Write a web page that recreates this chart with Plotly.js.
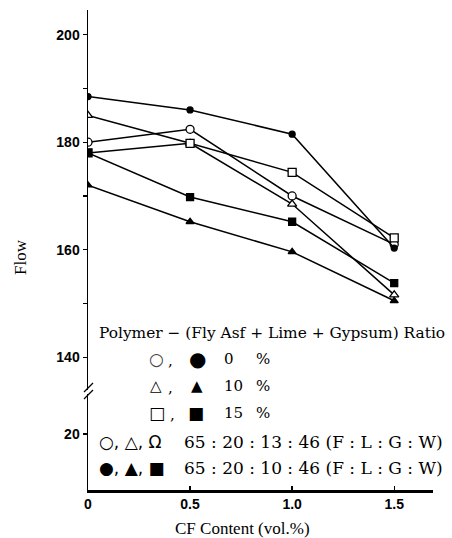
<!DOCTYPE html>
<html>
<head>
<meta charset="utf-8">
<script src="https://cdn.plot.ly/plotly-3.0.1.min.js"></script>
<style>html,body{margin:0;padding:0;background:#fff;}#chart{width:452px;height:538px;}</style>
</head>
<body>
<div id="chart"></div>
<script>
// ---- data ----
const cfContent = [0, 0.5, 1.0, 1.5];
const openCircle0 = [180, 182.4, 170, 161];
const filledCircle0 = [188.5, 186, 181.5, 160.3];
const openTriangle10 = [185, 179.8, 168.5, 151.6];
const filledTriangle10 = [172, 165.2, 159.6, 150.5];
const openSquare15 = [178, 179.8, 174.4, 162.2];
const filledSquare15 = [178, 169.8, 165.2, 153.8];
const upperTickVals = [140, 150, 160, 170, 180, 190, 200];
const upperTickText = ["140", "", "160", "", "180", "", "200"];
const lowerTickVals = [20];
const lowerTickText = ["20"];
const xTickVals = [0, 0.5, 1.0, 1.5];
const xTickText = ["0", "0.5", "1.0", "1.5"];

// ---- layout helpers (pixel -> paper) ----
const L = 88, R = 433, T = 10, B = 490;
const px = v => (v - L) / (R - L);
const py = v => (B - v) / (B - T);

function series(y, symbol, filled, size) {
  return {
    x: cfContent, y: y, xaxis: 'x', yaxis: 'y2',
    mode: 'lines+markers', type: 'scatter', showlegend: false,
    line: {color: '#000', width: 1.5},
    marker: {symbol: symbol, size: size, color: filled ? '#000' : '#fff',
             line: {color: '#000', width: 1.3}}
  };
}

const data = [
  // empty trace so the lower (broken) axis segment is created
  {x: [null], y: [null], xaxis: 'x', yaxis: 'y', type: 'scatter', mode: 'markers', showlegend: false},
  series(openCircle0, 'circle', false, 8),
  series(openTriangle10, 'triangle-up', false, 8),
  series(openSquare15, 'square', false, 8),
  series(filledCircle0, 'circle', true, 6),
  series(filledTriangle10, 'triangle-up', true, 7),
  series(filledSquare15, 'square', true, 7)
];

const serif = 'DejaVu Serif, serif';
const serif2 = 'Liberation Serif, Times New Roman, serif';
const sym = 'DejaVu Sans, sans-serif';
function ann(text, x, y, opts) {
  return Object.assign({text: text, x: px(x), y: py(y), xref: 'paper', yref: 'paper',
    showarrow: false, xanchor: 'left', yanchor: 'middle',
    font: {family: serif, size: 15, color: '#000'}}, opts || {});
}

const annotations = [
  ann('Flow', 20, 257, {xanchor: 'center', textangle: -90, font: {family: serif2, size: 17, color: '#000'}}),
  ann('CF Content (vol.%)', 242, 528, {xanchor: 'center', font: {family: serif2, size: 17, color: '#000'}}),
  ann('Polymer − (Fly Asf + Lime + Gypsum) Ratio', 97, 333, {font: {family: serif, size: 15.4, color: '#000'}}),
  // row 1
  ann('○', 156, 359, {xanchor: 'center', font: {family: sym, size: 17, color: '#444'}}),
  ann(',', 170, 361, {xanchor: 'center'}),
  ann('●', 197, 359, {xanchor: 'center', font: {family: sym, size: 20, color: '#000'}}),
  ann('0', 229, 359, {xanchor: 'center', font: {family: serif, size: 15, color: '#000'}}),
  ann('%', 263, 359, {xanchor: 'center', font: {family: serif, size: 15, color: '#000'}}),
  // row 2
  ann('△', 156, 386, {xanchor: 'center', font: {family: sym, size: 15, color: '#000'}}),
  ann(',', 170, 388, {xanchor: 'center'}),
  ann('▲', 197, 386, {xanchor: 'center', font: {family: sym, size: 15, color: '#000'}}),
  ann('10', 233, 386, {xanchor: 'center', font: {family: serif, size: 15, color: '#000'}}),
  ann('%', 263, 386, {xanchor: 'center', font: {family: serif, size: 15, color: '#000'}}),
  // row 3
  ann('□', 157, 413, {xanchor: 'center', font: {family: sym, size: 17, color: '#000'}}),
  ann(',', 172, 415, {xanchor: 'center'}),
  ann('■', 196, 413, {xanchor: 'center', font: {family: sym, size: 17, color: '#000'}}),
  ann('15', 233, 413, {xanchor: 'center', font: {family: serif, size: 15, color: '#000'}}),
  ann('%', 263, 413, {xanchor: 'center', font: {family: serif, size: 15, color: '#000'}}),
  // row 4
  ann('○, △, Ω', 97, 442, {font: {family: sym, size: 17, color: '#000'}}),
  ann('65 : 20 : 13 : 46 (F : L : G : W)', 182, 442, {font: {family: serif, size: 17, color: '#000'}}),
  // row 5
  ann('●, ▲, ■', 97, 468, {font: {family: sym, size: 17, color: '#000'}}),
  ann('65 : 20 : 10 : 46 (F : L : G : W)', 182, 468, {font: {family: serif, size: 17, color: '#000'}})
];

const shapes = [
  {type: 'line', xref: 'paper', yref: 'paper', x0: px(84), y0: py(392), x1: px(93), y1: py(383), line: {color: '#000', width: 1.3}},
  {type: 'line', xref: 'paper', yref: 'paper', x0: px(84), y0: py(399), x1: px(93), y1: py(390), line: {color: '#000', width: 1.3}}
];

const tickFont = {family: 'Liberation Sans, Arial, sans-serif', size: 14, color: '#000', weight: 'bold'};

const layout = {
  width: 452, height: 538,
  margin: {l: L, r: 452 - R, t: T, b: 538 - B},
  paper_bgcolor: '#fff', plot_bgcolor: '#fff',
  showlegend: false,
  xaxis: {
    range: [0, 1.69], anchor: 'y', showgrid: false, zeroline: false,
    showline: true, linecolor: '#000', linewidth: 2.5,
    tickmode: 'array', tickvals: xTickVals, ticktext: xTickText,
    ticks: 'inside', ticklen: 4, tickcolor: '#000', tickwidth: 1.3,
    tickfont: tickFont
  },
  yaxis: {
    domain: [0, py(394)], range: [0, 34.3], anchor: 'x',
    showgrid: false, zeroline: false, showline: true, linecolor: '#000', linewidth: 1.5,
    tickmode: 'array', tickvals: lowerTickVals, ticktext: lowerTickText,
    ticks: 'outside', ticklen: 4, tickcolor: '#000', tickwidth: 1.3,
    tickfont: tickFont
  },
  yaxis2: {
    domain: [py(390), 1], range: [133.9, 204.6], anchor: 'x',
    showgrid: false, zeroline: false, showline: true, linecolor: '#000', linewidth: 1.5,
    tickmode: 'array', tickvals: upperTickVals, ticktext: upperTickText,
    ticks: 'outside', ticklen: 4, tickcolor: '#000', tickwidth: 1.3,
    tickfont: tickFont
  },
  annotations: annotations,
  shapes: shapes
};

Plotly.newPlot('chart', data, layout, {staticPlot: true, displayModeBar: false});
</script>
</body>
</html>
